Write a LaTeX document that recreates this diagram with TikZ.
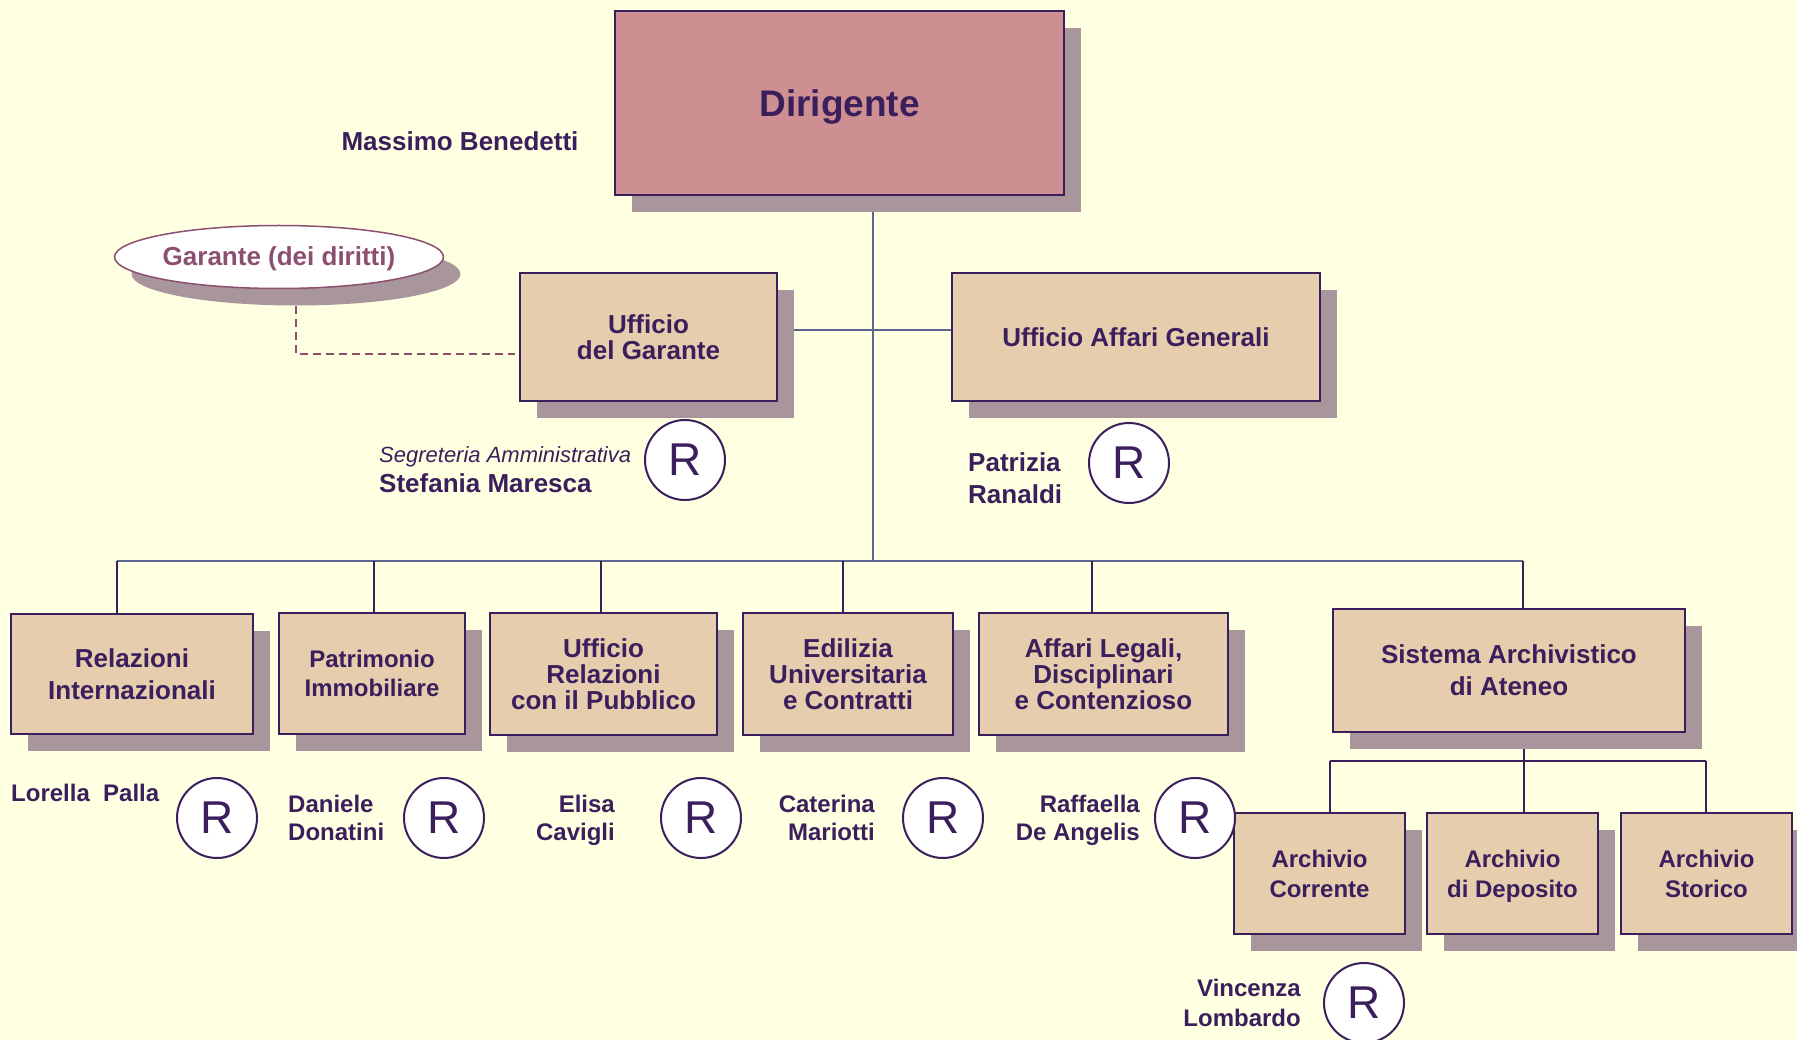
\documentclass[tikz,border=0pt]{standalone}
\usepackage{fontspec}
\setmainfont{Liberation Sans}
\usetikzlibrary{shapes.geometric,shadows}

\definecolor{paper}{HTML}{FFFFE2}
\definecolor{tan}{HTML}{E5CDAE}
\definecolor{rose}{HTML}{CD8F91}
\definecolor{shade}{HTML}{A8969C}
\definecolor{ink}{HTML}{3B1F5C}
\definecolor{slate}{HTML}{5A6690}
\definecolor{mauve}{HTML}{8B4F70}

\pgfdeclarelayer{bg}
\pgfsetlayers{bg,main}

\begin{document}
\begin{tikzpicture}[x=1pt,y=-1pt]
  \tikzstyle{unit}=[rectangle, draw=ink, line width=2pt, fill=tan, text=ink, align=center, inner sep=0pt,
    font=\bfseries\fontsize{26}{26}\selectfont,
    drop shadow={shadow xshift=17pt, shadow yshift=-17pt, fill=shade, opacity=1}]
  \tikzstyle{boss}=[unit, fill=rose, font=\bfseries\fontsize{37}{37}\selectfont]
  \tikzstyle{resp}=[circle, draw=ink, line width=2pt, fill=white, minimum size=80pt, inner sep=0pt,
    text=ink, font=\fontsize{46}{46}\selectfont]
  \tikzstyle{person}=[text=ink, inner sep=0pt, font=\bfseries\fontsize{24}{28}\selectfont]
  \tikzstyle{bus}=[draw=slate, line width=2.5pt]
  \tikzstyle{trunk}=[draw=slate, line width=2pt]
  \tikzstyle{drop}=[draw=ink, line width=1.5pt]
  \tikzstyle{sub}=[draw=ink, line width=2pt]

  \useasboundingbox (0,0) rectangle (1797,1040);
  \begin{pgfonlayer}{bg}
    \fill[paper] (0,0) rectangle (1797,1040);
  \end{pgfonlayer}

  % direzione
  \node[boss, minimum width=449pt, minimum height=184pt] (dir) at (839.5,103) {Diri\smash{g}ente};
  \node[person, font=\bfseries\fontsize{26}{26}\selectfont] (mb) at (460,141) {Massimo Benedetti};

  \node[ellipse, draw=mauve, line width=1.5pt, fill=white, minimum width=324pt, minimum height=63pt,
    inner sep=0pt, text=mauve, font=\bfseries\fontsize{26}{26}\selectfont,
    drop shadow={shadow xshift=17pt, shadow yshift=-17pt, fill=shade, opacity=1}]
    (gar) at (279,257) {Garante \smash{(dei diritti)}};

  \node[unit, minimum width=257pt, minimum height=128pt] (ufg) at (648.5,337) {Ufficio\\del Garante};
  \node[unit, minimum width=368pt, minimum height=128pt] (uag) at (1136,337) {Ufficio Affari Generali};

  \node[resp] (r1) at (685,460) {R};
  \node[person, anchor=west, align=left, font=\bfseries\fontsize{26}{30}\selectfont] (sm) at (379,470)
    {{\mdseries\itshape\fontsize{22}{22}\selectfont Se\smash{g}reteria Amministrativa}\\Stefania Maresca};
  \node[resp] (r2) at (1129,463) {R};
  \node[person, anchor=west, align=left, font=\bfseries\fontsize{26}{32}\selectfont] (pr) at (968,478)
    {Patrizia\\Ranaldi};

  % uffici
  \node[unit, minimum width=242pt, minimum height=120pt, font=\bfseries\fontsize{26}{32}\selectfont]
    (ri) at (132,674) {Relazioni\\Internazionali};
  \node[unit, minimum width=186pt, minimum height=121pt, font=\bfseries\fontsize{24}{29}\selectfont]
    (pim) at (372,673.5) {Patrimonio\\Immobiliare};
  \node[unit, minimum width=227pt, minimum height=122pt] (urp) at (603.5,674) {Ufficio\\Relazioni\\con il Pubblico};
  \node[unit, minimum width=210pt, minimum height=122pt] (edi) at (848,674) {Edilizia\\Universitaria\\e Contratti};
  \node[unit, minimum width=249pt, minimum height=122pt] (alg) at (1103.5,674) {Affari Legali,\\Disciplinari\\e Contenzioso};
  \node[unit, minimum width=352pt, minimum height=123pt, font=\bfseries\fontsize{26}{32}\selectfont]
    (sad) at (1509,670.5) {Sistema Archivistico\\di Ateneo};

  \node[unit, minimum width=171pt, minimum height=121pt, font=\bfseries\fontsize{24}{30}\selectfont]
    (ac) at (1319.5,873.5) {Archivio\\Corrente};
  \node[unit, minimum width=171pt, minimum height=121pt, font=\bfseries\fontsize{24}{30}\selectfont]
    (ad) at (1512.5,873.5) {Archivio\\di De\smash{p}osito};
  \node[unit, minimum width=171pt, minimum height=121pt, font=\bfseries\fontsize{24}{30}\selectfont]
    (as) at (1706.5,873.5) {Archivio\\Storico};

  % responsabili
  \node[person, anchor=west] (lp) at (11,793) {Lorella\ \ Palla};
  \node[resp] (r3) at (217,818) {R};
  \node[person, anchor=west, align=left] (dd) at (288,818) {Daniele\\Donatini};
  \node[resp] (r4) at (444,818) {R};
  \node[person, anchor=east, align=right] (ec) at (615,818) {Elisa\\Cavi\smash{g}li};
  \node[resp] (r5) at (701,818) {R};
  \node[person, anchor=east, align=right] (cm) at (875,818) {Caterina\\Mariotti};
  \node[resp] (r6) at (943,818) {R};
  \node[person, anchor=east, align=right] (rd) at (1140,818) {Raffaella\\De An\smash{g}elis};
  \node[resp] (r7) at (1195,818) {R};
  \node[person, anchor=east, align=right, font=\bfseries\fontsize{24}{30}\selectfont] (vl) at (1301,1003) {Vincenza\\Lombardo};
  \node[resp] (r8) at (1364,1003) {R};

  % collegamenti
  \coordinate (t0) at (873,561);
  \coordinate (b1) at (117,561);
  \coordinate (b2) at (374,561);
  \coordinate (b3) at (601,561);
  \coordinate (b4) at (843,561);
  \coordinate (b5) at (1092,561);
  \coordinate (b6) at (1523,561);
  \coordinate (s1) at (1330,761);
  \coordinate (s2) at (1524,761);
  \coordinate (s3) at (1706,761);

  \begin{pgfonlayer}{bg}
    \draw[trunk] (dir.south -| t0) -- (t0);
    \draw[bus] ([yshift=7pt]ufg.east) -- ([yshift=7pt]uag.west);
    \draw[bus] (b1) -- (b6);
    \draw[drop] (b1) -- (b1 |- ri.north);
    \draw[drop] (b2) -- (b2 |- pim.north);
    \draw[drop] (b3) -- (b3 |- urp.north);
    \draw[drop] (b4) -- (b4 |- edi.north);
    \draw[drop] (b5) -- (b5 |- alg.north);
    \draw[drop] (b6) -- (b6 |- sad.north);
    \draw[sub] (sad.south -| s2) -- ([yshift=-7pt]s2);
    \draw[sub] (s1) -- (s3);
    \draw[sub] (s1) -- (s1 |- ac.north);
    \draw[sub] (s2) -- (s2 |- ad.north);
    \draw[sub] (s3) -- (s3 |- as.north);
    \draw[mauve, line width=1.5pt, dash pattern=on 8pt off 5pt] ([xshift=17pt,yshift=-17pt]gar.south) |- ([xshift=-4pt,yshift=-17pt]ufg.west);
  \end{pgfonlayer}

\end{tikzpicture}
\end{document}
